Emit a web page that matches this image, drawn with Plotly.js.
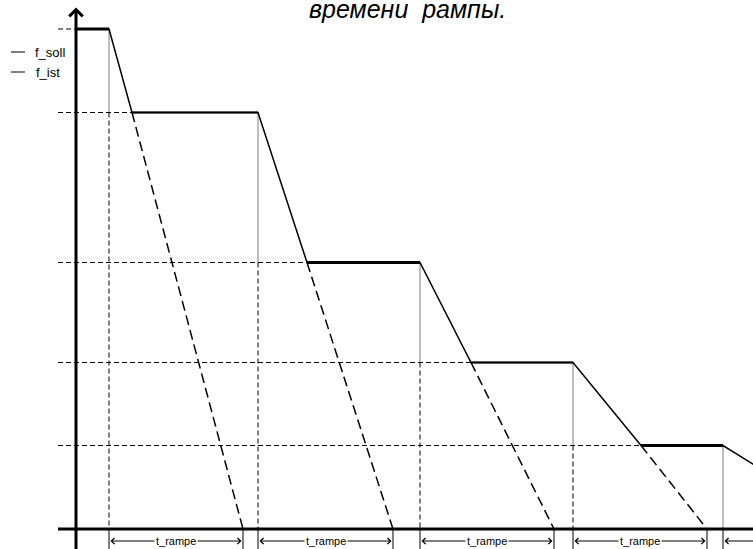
<!DOCTYPE html>
<html>
<head>
<meta charset="utf-8">
<script src="https://cdn.plot.ly/plotly-3.0.1.min.js"></script>
<style>html,body{margin:0;padding:0;background:#fff;}#chart{width:753px;height:549px;}</style>
</head>
<body>
<div id="chart"></div>
<script>
// ---- data (time in ramp-diagram units, frequency in % of max) ----
const stepT     = [33, 182, 344, 497, 647];          // setpoint step times
const levels    = [100, 83.3, 53.3, 33.3, 16.7, 0];  // f_soll levels
const crossT    = [56, 231, 395, 565];               // f_ist reaches the new level
const rampEndT  = [167, 317, 478, 631, 781];         // ramp would reach zero (step + t_rampe)
const istT      = [0, 33, 56, 182, 231, 344, 395, 497, 565, 647, 781];
const istF      = [100, 100, 83.3, 83.3, 53.3, 53.3, 33.3, 33.3, 16.7, 16.7, 0];
const rampLabel = 't_rampe';
const titleText = 'времени&nbsp;&nbsp;рампы.';
const legendNames = ['f_soll', 'f_ist'];

// ---- styling constants ----
const X_MIN = -76, X_MAX = 677, Y_MIN = -4, Y_MAX = 105.8;
const GRID_START = -18;       // left end of dashed level lines
const ARROW_F = -2.4;         // height of t_rampe arrows
const FLAT_W = [3, 2, 3, 2, 3];
const FONT = 'Liberation Sans, Arial, sans-serif';

const traces = [];
// f_soll: grey step edges
(function(){
  const x = [], y = [];
  stepT.forEach((t, i) => { x.push(t, t, null); y.push(levels[i], levels[i+1], null); });
  traces.push({x, y, mode:'lines', name:legendNames[0], line:{color:'#a8a8a8', width:1.5}, hoverinfo:'skip'});
})();
// dashed horizontal level guides
(function(){
  const ends = [0].concat(crossT);
  const x = [], y = [];
  ends.forEach((e, i) => { x.push(GRID_START, e, null); y.push(levels[i], levels[i], null); });
  traces.push({x, y, mode:'lines', line:{color:'#000', width:1, dash:'5px,3px'}, hoverinfo:'skip', showlegend:false});
})();
// dashed vertical guides below each step
(function(){
  const x = [], y = [];
  stepT.slice(0, 4).forEach((t, i) => { x.push(t, t, null); y.push(levels[i+1], 0, null); });
  traces.push({x, y, mode:'lines', line:{color:'#000', width:1, dash:'5px,3px'}, hoverinfo:'skip', showlegend:false});
})();
// tick marks under the time axis
(function(){
  const x = [], y = [];
  stepT.concat(rampEndT.slice(0, 4)).forEach(t => { x.push(t, t, null); y.push(0, Y_MIN, null); });
  traces.push({x, y, mode:'lines', line:{color:'#000', width:1}, hoverinfo:'skip', showlegend:false});
})();
// dashed ramp continuations to zero
(function(){
  const x = [], y = [];
  crossT.forEach((c, i) => { x.push(c, rampEndT[i], null); y.push(levels[i+1], 0, null); });
  traces.push({x, y, mode:'lines', line:{color:'#000', width:1.5, dash:'10px,5px'}, hoverinfo:'skip', showlegend:false});
})();
// f_ist
traces.push({x: istT, y: istF, mode:'lines', name:legendNames[1], line:{color:'#000', width:1.5}, hoverinfo:'skip'});
// thicker flat segments of f_ist
for (let k = 0; k < 5; k++) {
  traces.push({x:[istT[2*k], istT[2*k+1]], y:[istF[2*k], istF[2*k+1]], mode:'lines',
    line:{color:'#000', width:FLAT_W[k]}, hoverinfo:'skip', showlegend:false});
}

const shapes = [
  {type:'line', xref:'x', yref:'y', x0:GRID_START, x1:X_MAX, y0:0, y1:0, line:{color:'#000', width:3}},
  {type:'line', xref:'x', yref:'y', x0:0, x1:0, y0:Y_MIN, y1:103.6, line:{color:'#000', width:3}},
  // legend sample lines
  {type:'line', xref:'paper', yref:'paper', x0:11/753, x1:25/753, y0:1-52/549, y1:1-52/549, line:{color:'#000', width:1}},
  {type:'line', xref:'paper', yref:'paper', x0:11/753, x1:25/753, y0:1-72/549, y1:1-72/549, line:{color:'#000', width:1}}
];

const annotations = [];
// y axis arrow head
annotations.push({x:0, y:104.3, ax:0, ay:99, xref:'x', yref:'y', axref:'x', ayref:'y', text:'',
  showarrow:true, arrowhead:4, arrowsize:1.3, arrowwidth:2, arrowcolor:'#000', standoff:0});
// t_rampe arrows
stepT.forEach((t, i) => {
  const e = rampEndT[i], m = (t + e) / 2;
  annotations.push({x:t + 1.5, y:ARROW_F, ax:m, ay:ARROW_F, xref:'x', yref:'y', axref:'x', ayref:'y', text:'',
    showarrow:true, arrowhead:4, arrowsize:1.2, arrowwidth:1, arrowcolor:'#000', standoff:0});
  annotations.push({x:e - 1.5, y:ARROW_F, ax:m, ay:ARROW_F, xref:'x', yref:'y', axref:'x', ayref:'y', text:'',
    showarrow:true, arrowhead:4, arrowsize:1.2, arrowwidth:1, arrowcolor:'#000', standoff:0});
  annotations.push({x:m, y:ARROW_F, xref:'x', yref:'y', text:rampLabel, showarrow:false,
    bgcolor:'#fff', borderpad:1, font:{family:FONT, size:11, color:'#000'}});
});
// legend texts
annotations.push({x:33/753, y:1-53/549, xref:'paper', yref:'paper', xanchor:'left', yanchor:'middle',
  text:legendNames[0], showarrow:false, font:{family:FONT, size:13, color:'#000'}});
annotations.push({x:34/753, y:1-73/549, xref:'paper', yref:'paper', xanchor:'left', yanchor:'middle',
  text:legendNames[1], showarrow:false, font:{family:FONT, size:13, color:'#000'}});
// caption text at top
annotations.push({x:407/753, y:1-25/549, xref:'paper', yref:'paper', xanchor:'center', yanchor:'bottom',
  text:'<i>' + titleText + '</i>', showarrow:false, font:{family:FONT, size:25, color:'#000'}});

const layout = {
  width:753, height:549,
  margin:{l:0, r:0, t:0, b:0, pad:0},
  paper_bgcolor:'#fff', plot_bgcolor:'#fff',
  showlegend:false,
  xaxis:{range:[X_MIN, X_MAX], visible:false, fixedrange:true},
  yaxis:{range:[Y_MIN, Y_MAX], visible:false, fixedrange:true},
  shapes, annotations
};
Plotly.newPlot('chart', traces, layout, {displayModeBar:false, staticPlot:true});
</script>
</body>
</html>
